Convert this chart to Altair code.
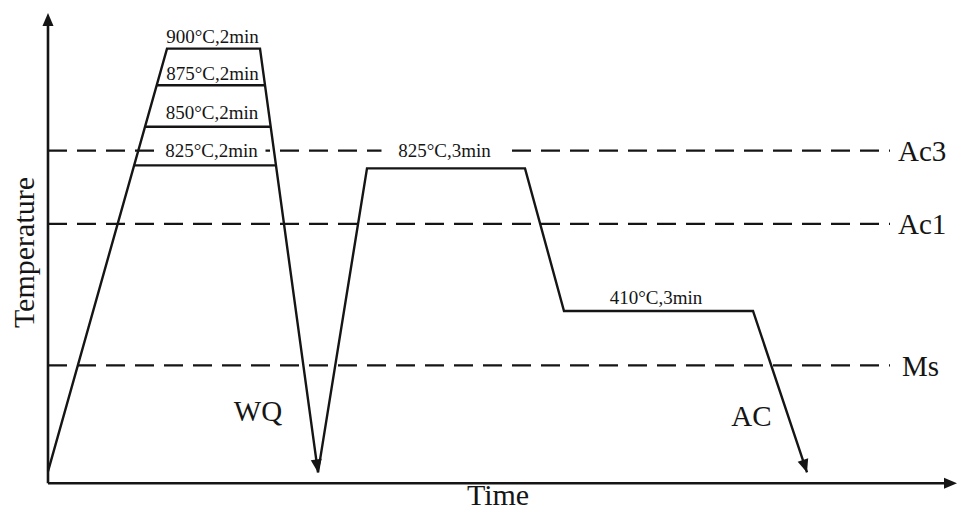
import math
import altair as alt
import pandas as pd

# ---- schematic profile (time, temperature in arbitrary schematic units) ----
quench_t = [0.0, 11.9, 21.2, 27.0]
quench_T = [1.2, 43.9, 43.9, 1.1]
hold875_t = [10.9, 21.7]
hold875_T = [40.2, 40.2]
hold850_t = [9.7, 22.3]
hold850_T = [36.0, 36.0]
hold825_t = [8.6, 22.8]
hold825_T = [32.1, 32.1]
anneal_t = [27.0, 31.9, 47.7, 51.6, 70.5, 75.9]
anneal_T = [1.1, 31.8, 31.8, 17.4, 17.4, 1.1]

# critical temperatures (dashed)
crit_names = ["Ac3", "Ac1", "Ms"]
crit_T = [33.6, 26.2, 11.9]
crit_end = 84.2

# hold labels
hold_labels = ["900°C,2min", "875°C,2min", "850°C,2min", "825°C,2min", "825°C,3min", "410°C,3min"]
hold_label_t = [16.45, 16.45, 16.4, 16.35, 39.65, 60.8]
hold_label_T = [44.5, 40.7, 36.8, 32.9, 33.0, 18.1]
masked = [False, False, False, True, True, False]
mask_half = [0, 0, 0, 5.4, 6.3, 0]

# cooling labels
cool_labels = ["WQ", "AC"]
cool_t = [21.0, 70.35]
cool_T = [6.3, 5.8]

# axes
x_max, y_max = 90.9, 47.5
X_DOM = [-4.0, 91.0]
Y_DOM = [-2.3, 48.0]

ink = "#151515"
font = "Liberation Serif"

xs = alt.Scale(domain=X_DOM, nice=False, zero=False)
ys = alt.Scale(domain=Y_DOM, nice=False, zero=False)
X = lambda f: alt.X(f, type="quantitative", scale=xs, axis=None)
Y = lambda f: alt.Y(f, type="quantitative", scale=ys, axis=None)

# segments table
rows = []
for name, ts, Ts in [("quench", quench_t, quench_T), ("h875", hold875_t, hold875_T),
                     ("h850", hold850_t, hold850_T), ("h825", hold825_t, hold825_T),
                     ("anneal", anneal_t, anneal_T)]:
    for i, (a, b) in enumerate(zip(ts, Ts)):
        rows.append({"seg": name, "o": i, "t": a, "T": b})
seg_df = pd.DataFrame(rows)

axes_df = pd.DataFrame([
    {"seg": "yaxis", "o": 0, "t": 0.0, "T": 0.0},
    {"seg": "yaxis", "o": 1, "t": 0.0, "T": y_max - 0.6},
    {"seg": "xaxis", "o": 0, "t": 0.0, "T": 0.0},
    {"seg": "xaxis", "o": 1, "t": x_max - 0.6, "T": 0.0},
])

dash_df = pd.DataFrame({"name": crit_names, "T": crit_T, "t0": [0.0] * 3, "t1": [crit_end] * 3})

# arrowheads: tip and direction from preceding point
def arrow(tip, prev):
    dx, dy = tip[0] - prev[0], tip[1] - prev[1]
    L = math.hypot(dx, dy)
    off = 0.65
    return {"t": tip[0] - dx / L * off, "T": tip[1] - dy / L * off,
            "ang": math.degrees(math.atan2(dx, dy)) % 360}

arrows_df = pd.DataFrame([
    arrow((0.0, y_max), (0.0, 0.0)),
    arrow((x_max, 0.0), (0.0, 0.0)),
    arrow((quench_t[-1], quench_T[-1]), (quench_t[-2], quench_T[-2])),
    arrow((anneal_t[-1], anneal_T[-1]), (anneal_t[-2], anneal_T[-2])),
])

lab_df = pd.DataFrame({"label": hold_labels, "t": hold_label_t, "T": hold_label_T,
                       "masked": masked, "half": mask_half})
mask_df = lab_df[lab_df["masked"]].copy()
mask_df["x0"] = mask_df["t"] - mask_df["half"]
mask_df["x1"] = mask_df["t"] + mask_df["half"]
mask_df["y0"] = 33.6 - 0.45
mask_df["y1"] = 33.6 + 0.45

cool_df = pd.DataFrame({"label": cool_labels, "t": cool_t, "T": cool_T})
crit_lab_df = pd.DataFrame({"label": crit_names, "t": [85.0, 85.0, 85.4],
                            "T": [c - 1.05 for c in crit_T]})

dashed = alt.Chart(dash_df).mark_rule(color=ink, strokeWidth=2.2, strokeDash=[19, 10]).encode(
    x=X("t0"), x2="t1", y=Y("T"))
masks = alt.Chart(mask_df).mark_rect(color="white").encode(
    x=X("x0"), x2="x1", y=Y("y0"), y2="y1")
axes = alt.Chart(axes_df).mark_line(color=ink, strokeWidth=2.6).encode(
    x=X("t"), y=Y("T"), detail="seg:N", order="o:Q")
profile = alt.Chart(seg_df).mark_line(color=ink, strokeWidth=2.4).encode(
    x=X("t"), y=Y("T"), detail="seg:N", order="o:Q")
heads = alt.Chart(arrows_df).mark_point(
    shape="M0,-1L0.85,1L-0.85,1Z", filled=True, color=ink, opacity=1, size=169, strokeWidth=0
).encode(x=X("t"), y=Y("T"), angle=alt.Angle("ang:Q", scale=None))
hold_text = alt.Chart(lab_df).mark_text(font=font, fontSize=19, color=ink, align="center",
                                        baseline="alphabetic").encode(
    x=X("t"), y=Y("T"), text="label:N")
cool_text = alt.Chart(cool_df).mark_text(font=font, fontSize=29, color=ink, align="center",
                                         baseline="alphabetic").encode(
    x=X("t"), y=Y("T"), text="label:N")
crit_text = alt.Chart(crit_lab_df).mark_text(font=font, fontSize=29, color=ink, align="left",
                                             baseline="alphabetic").encode(
    x=X("t"), y=Y("T"), text="label:N")
title_df = pd.DataFrame({"label": ["Temperature", "Time"], "t": [-2.3, 45.0], "T": [23.3, -2.2]})
ylab = alt.Chart(title_df.iloc[[0]]).mark_text(font=font, fontSize=30, color=ink, align="center",
                                               baseline="middle", angle=270).encode(
    x=X("t"), y=Y("T"), text="label:N")
xlab = alt.Chart(title_df.iloc[[1]]).mark_text(font=font, fontSize=30, color=ink, align="center",
                                               baseline="alphabetic").encode(
    x=X("t"), y=Y("T"), text="label:N")

chart = alt.layer(dashed, masks, axes, profile, heads, hold_text, cool_text, crit_text, ylab, xlab).properties(
    width=950, height=503,
    autosize=alt.AutoSizeParams(type="fit", contains="padding"),
    padding={"left": 0, "right": 0, "top": 0, "bottom": 0},
    background="white",
).configure_view(stroke=None)

chart.save("out.html", embed_options={"renderer": "svg", "actions": False})
